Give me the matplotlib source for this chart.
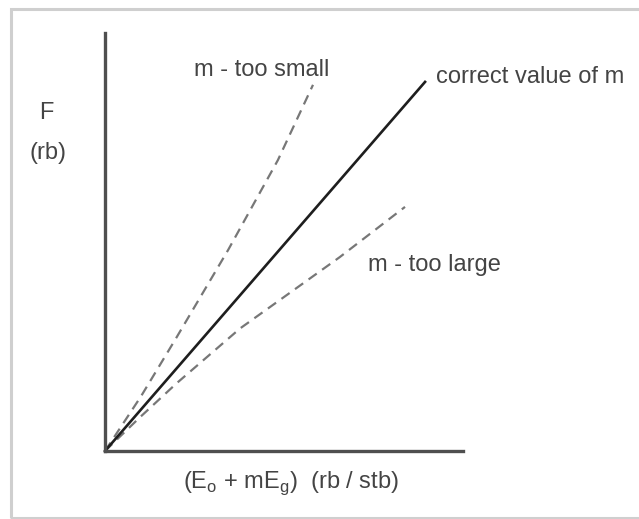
import matplotlib.pyplot as plt
import matplotlib.patches as patches

plt.rcParams['font.family'] = ['Liberation Sans', 'DejaVu Sans']
plt.rcParams['mathtext.fontset'] = 'custom'
plt.rcParams['mathtext.rm'] = 'Liberation Sans'

# --- DATA (schematic F vs expansion term) ---
correct_x = [0, 8.94]
correct_f = [0, 8.83]

small_x = [0, 1.0, 2.0, 3.44, 4.83, 5.81]
small_f = [0, 1.30, 2.72, 4.81, 6.96, 8.76]

large_x = [0, 0.98, 2.0, 3.77, 6.56, 8.38]
large_f = [0, 0.81, 1.62, 2.93, 4.64, 5.84]

TEXT_COLOR = '#444444'
W, H = 639, 519

fig = plt.figure(figsize=(W / 100, H / 100), dpi=100)
fig.patch.set_facecolor('white')

# light frame around the figure, open to the right
frame = patches.Rectangle((11 / W, 1 - 518 / H), 700 / W, (518 - 9) / H,
                          transform=fig.transFigure, fill=False,
                          edgecolor='#cfcfcf', linewidth=2.2, zorder=0)
fig.patches.append(frame)

ax = fig.add_axes([105 / W, 1 - 451 / H, (463 - 105) / W, (451 - 33) / H])
ax.set_xlim(0, 10)
ax.set_ylim(0, 10)
ax.patch.set_alpha(0)

for side in ['top', 'right']:
    ax.spines[side].set_visible(False)
for side in ['left', 'bottom']:
    ax.spines[side].set_color('#4f4f4f')
    ax.spines[side].set_linewidth(2.4)
ax.set_xticks([])
ax.set_yticks([])

ax.plot(small_x, small_f, color='#777777', linewidth=1.6,
        linestyle=(0, (4.5, 3)), clip_on=False)
ax.plot(large_x, large_f, color='#777777', linewidth=1.6,
        linestyle=(0, (4.5, 3)), clip_on=False)
ax.plot(correct_x, correct_f, color='#1e1e1e', linewidth=1.9, clip_on=False)

# --- LABELS ---
fs = 17
fig.text(262 / W, 1 - 70 / H, 'm - too small', color=TEXT_COLOR, fontsize=fs,
         ha='center', va='center')
fig.text(436 / W, 1 - 77 / H, 'correct value of m', color=TEXT_COLOR, fontsize=fs,
         ha='left', va='center')
fig.text(434 / W, 1 - 265 / H, 'm - too large', color=TEXT_COLOR, fontsize=fs,
         ha='center', va='center')
fig.text(46 / W, 1 - 113 / H, 'F', color=TEXT_COLOR, fontsize=fs,
         ha='center', va='center')
fig.text(48 / W, 1 - 153 / H, '(rb)', color=TEXT_COLOR, fontsize=fs,
         ha='center', va='center')
fig.text(291 / W, 1 - 483 / H,
         r'(E$_\mathrm{o}$ + mE$_\mathrm{g}$)  (rb / stb)',
         color=TEXT_COLOR, fontsize=fs, ha='center', va='center')

fig.savefig('out.png', dpi=100)
